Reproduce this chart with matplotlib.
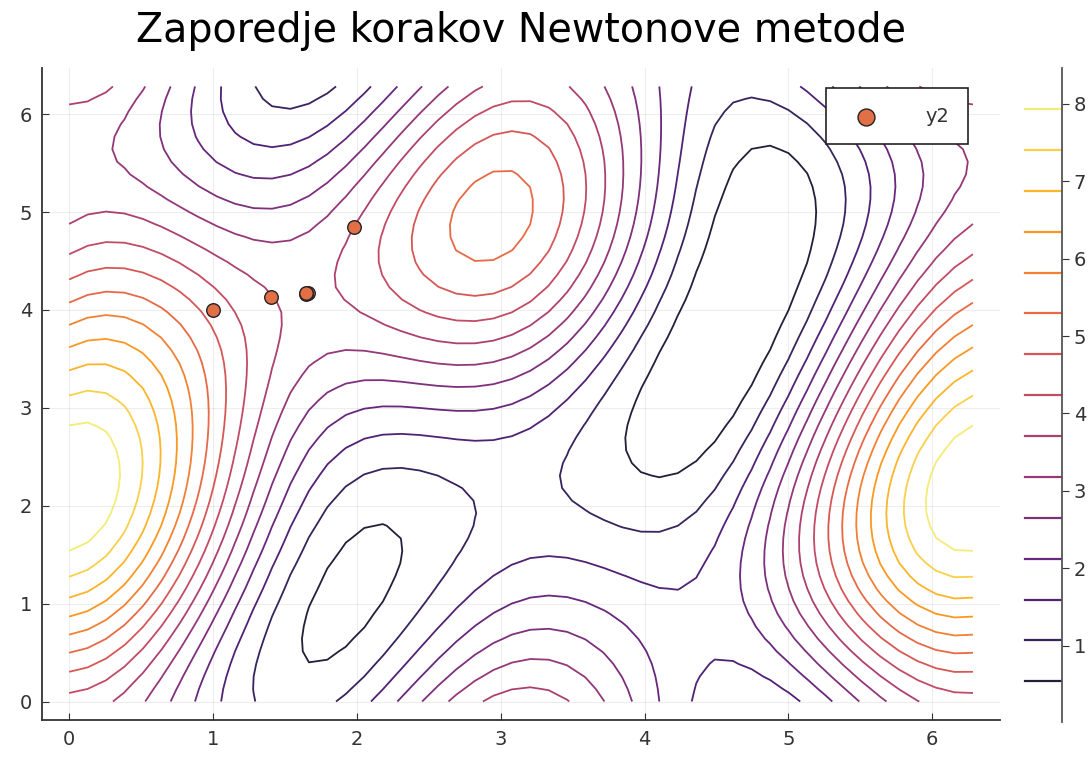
import numpy as np
import matplotlib
matplotlib.use("Agg")
import matplotlib.pyplot as plt

# contour field: squared distance between two curves, parameters
# curve 1 (x parameter): ellipse (a cos x, b sin x)
curve1_axes = [2.0, 1.0]
# curve 2 (y parameter): center + cos(y) * u + sin(y) * v
curve2_center = [-0.325, -0.271]
curve2_cos = [0.316, 0.364]
curve2_sin = [-0.491, 0.510]

# Newton steps
newton_x = [1.00, 1.98, 1.40, 1.66, 1.65, 1.65]
newton_y = [4.00, 4.85, 4.13, 4.17, 4.16, 4.17]

title = "Zaporedje korakov Newtonove metode"
n_levels = 15
cbar_ticks = [1, 2, 3, 4, 5, 6, 7, 8]
axis_ticks = [0, 1, 2, 3, 4, 5, 6]

t = np.linspace(0, 2 * np.pi, 50)
X, Y = np.meshgrid(t, t)
px = curve1_axes[0] * np.cos(X)
py = curve1_axes[1] * np.sin(X)
qx = curve2_center[0] + curve2_cos[0] * np.cos(Y) + curve2_sin[0] * np.sin(Y)
qy = curve2_center[1] + curve2_cos[1] * np.cos(Y) + curve2_sin[1] * np.sin(Y)
Z = (px - qx) ** 2 + (py - qy) ** 2

zmin, zmax = Z.min(), Z.max()
levels = np.linspace(zmin, zmax, n_levels + 2)[1:-1]
cmap = plt.get_cmap("inferno")
norm = plt.Normalize(zmin, zmax)

fig = plt.figure(figsize=(10.92, 7.57), dpi=100)
ax = fig.add_axes([0.0385, 0.0489, 0.8773, 0.8613])
ax.contour(X, Y, Z, levels=levels, cmap=cmap, norm=norm, linewidths=1.3, alpha=0.9)
ax.scatter(newton_x, newton_y, s=95, color="#e26f46", edgecolors="#222222",
           linewidths=1.0, zorder=5, label="y2")

pad = 0.03 * 2 * np.pi
ax.set_xlim(-pad, 2 * np.pi + pad)
ax.set_ylim(-pad, 2 * np.pi + pad)
ax.set_xticks(axis_ticks)
ax.set_yticks(axis_ticks)
ax.grid(True, color="black", alpha=0.07, linewidth=0.8)
for s in ["top", "right"]:
    ax.spines[s].set_visible(False)
for s in ["left", "bottom"]:
    ax.spines[s].set_linewidth(1.3)
    ax.spines[s].set_color("#333333")
ax.tick_params(direction="in", length=5, labelsize=14, colors="#333333", pad=7)

fig.text(0.477, 1 - 31 / 757, title, ha="center", va="center", fontsize=28.5)

leg = ax.legend(loc="upper right", bbox_to_anchor=(0.9666, 0.969), borderaxespad=0,
                fontsize=14, frameon=True, fancybox=False, borderpad=0.95,
                handletextpad=1.9, handlelength=2.3, markerscale=1.25)
leg.get_frame().set_edgecolor("#222222")
leg.get_frame().set_linewidth(1.2)
leg.get_frame().set_alpha(1)
for txt in leg.get_texts():
    txt.set_color("#333333")

# colorbar with the contour levels
cax = fig.add_axes([0.936, 0.046, 0.0365, 0.864])
for lv in levels:
    cax.axhline(lv, xmin=0.08, xmax=1.0, color=cmap(norm(lv)), linewidth=1.6, alpha=0.9)
cax.set_ylim(zmin, zmax)
cax.set_xlim(0, 1)
cax.set_xticks([])
cax.yaxis.tick_right()
cax.set_yticks(cbar_ticks)
for s in ["top", "left", "bottom"]:
    cax.spines[s].set_visible(False)
cax.spines["right"].set_linewidth(1.3)
cax.spines["right"].set_color("#555555")
cax.tick_params(axis="y", direction="out", length=5, labelsize=14, colors="#333333")

fig.savefig("out.png", dpi=100)
